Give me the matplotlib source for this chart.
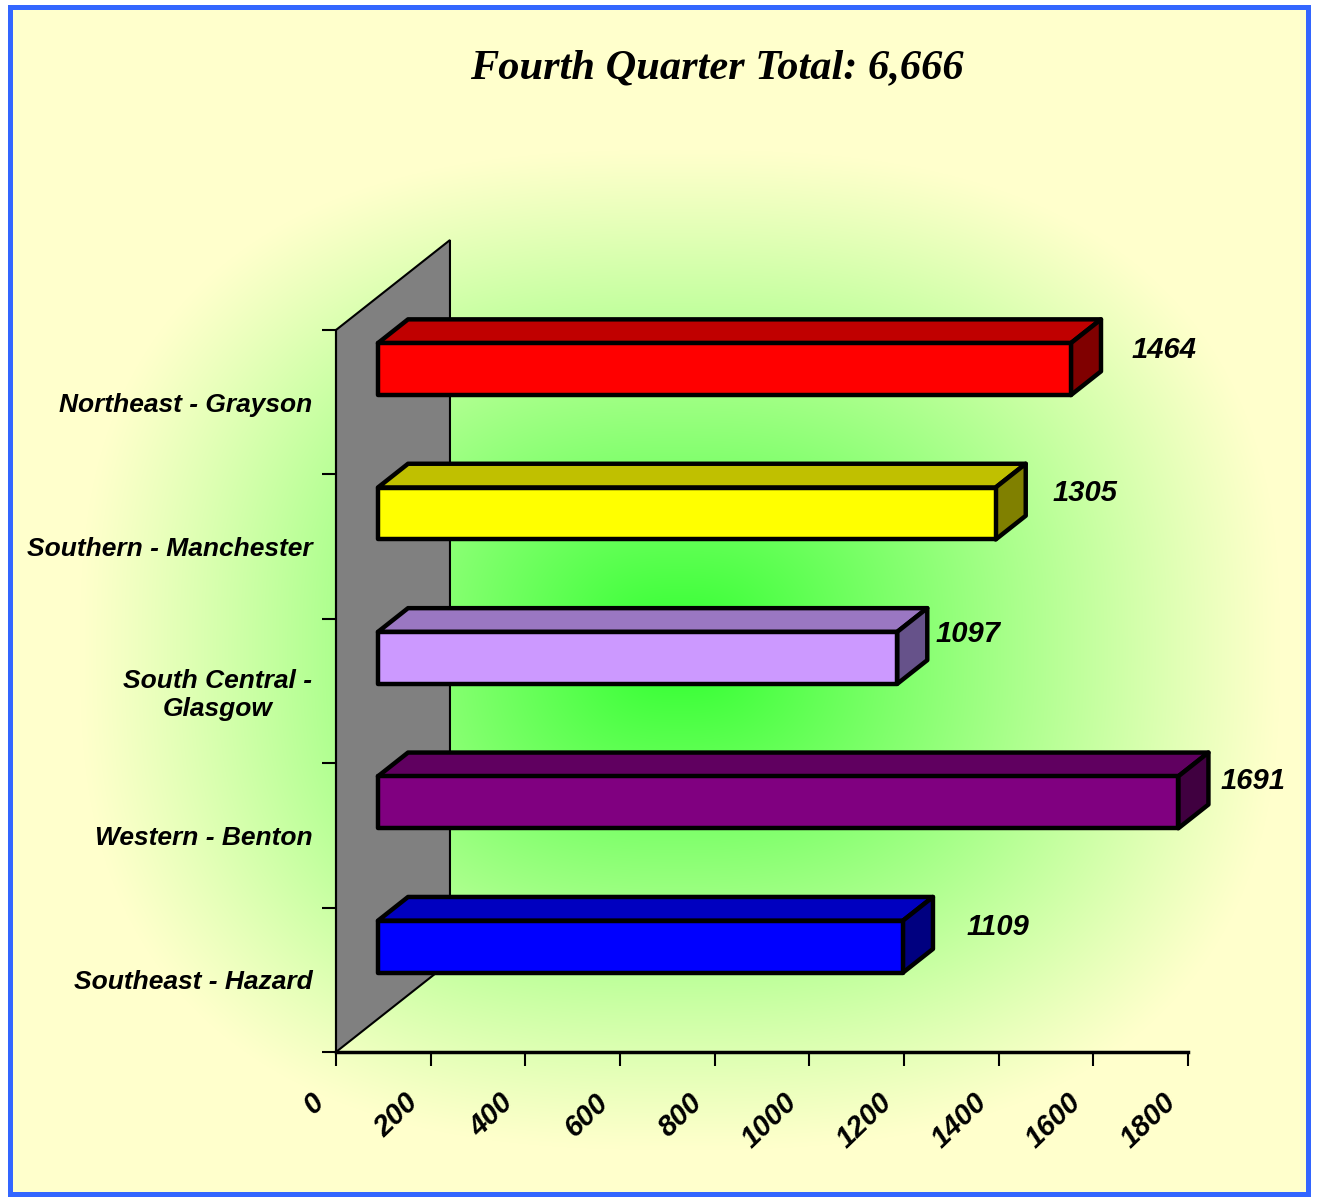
import matplotlib.pyplot as plt
import numpy as np
from matplotlib.patches import Polygon, Rectangle
from matplotlib.transforms import ScaledTranslation

# data, listed top to bottom as shown
regions = ["Northeast - Grayson", "Southern - Manchester", "South Central -\nGlasgow",
           "Western - Benton", "Southeast - Hazard"]
totals = [1464, 1305, 1097, 1691, 1109]
x_ticks = [0, 200, 400, 600, 800, 1000, 1200, 1400, 1600, 1800]
title = "Fourth Quarter Total: 6,666"

# styling
face_colors = ["#FF0000", "#FFFF00", "#CC99FF", "#800080", "#0000FF"]
top_colors = ["#C00000", "#C0C000", "#9A77C2", "#600060", "#0000C0"]
side_colors = ["#800000", "#808000", "#66528A", "#400040", "#000080"]
label_offsets = [(31, -1), (27, 0), (8, 4), (12, 1), (34, -1)]  # pixels

W, H = 1317, 1197
fig = plt.figure(figsize=(W / 100, H / 100), dpi=100)

# background: pale yellow with a green glow in the middle
bg = fig.add_axes([0, 0, 1, 1])
bg.set_axis_off()
yy, xx = np.mgrid[0:H, 0:W] + 0.5
cx, cy, a, b, p = 680, 650, 600, 500, 2.6
t = ((np.abs(xx - cx) / a) ** p + (np.abs(yy - cy) / b) ** p) ** (1 / p)
w = np.clip(1 - t, 0, 1) ** 1.1
yellow = np.array([1.0, 1.0, 0.8])
green = np.array([0.18, 1.0, 0.18])
rgb = yellow * (1 - w[..., None]) + green * w[..., None]
outside = (xx < 8) | (xx > 1309) | (yy < 5) | (yy > 1194)
rgb[outside] = 1.0
bg.imshow(rgb, extent=(0, W, H, 0), aspect="auto", interpolation="bilinear")
bg.set_xlim(0, W)
bg.set_ylim(H, 0)
bg.add_patch(Rectangle((9.5, 6.5), 1298, 1187, fill=False, ec="#3366FF", lw=3.6))

fig.text(717 / W, 1 - 68 / H, title, ha="center", va="center", fontsize=30.5,
         family="Liberation Serif", weight="bold", style="italic")

# chart axes (front plane of the 3d box)
ax = fig.add_axes([336 / W, 1 - 1052 / H, 852 / W, 722 / H])
ax.set_facecolor("none")
ax.set_xlim(0, 1800)
ax.set_ylim(0, len(regions))

# depth vector in data units and bar depth range
DX, DY = 240.8, 0.623
d0, d1 = 0.368, 0.632
half = 0.18


def P(x, y, d):
    return (x + d * DX, y + d * DY)


n = len(regions)
wall = Polygon([P(0, 0, 0), P(0, n, 0), P(0, n, 1), P(0, 0, 1)], closed=True,
               fc="#808080", ec="black", lw=1.5, clip_on=False, zorder=1)
ax.add_patch(wall)

font = dict(family="Liberation Sans", weight="bold", style="italic")

for i, (v, fc, tc, sc) in enumerate(zip(totals, face_colors, top_colors, side_colors)):
    yc = n - 0.5 - i
    y0, y1 = yc - half, yc + half
    kw = dict(closed=True, ec="black", lw=3.2, joinstyle="round", clip_on=False, zorder=3)
    ax.add_patch(Polygon([P(0, y1, d0), P(v, y1, d0), P(v, y1, d1), P(0, y1, d1)], fc=tc, **kw))
    ax.add_patch(Polygon([P(v, y0, d0), P(v, y0, d1), P(v, y1, d1), P(v, y1, d0)], fc=sc, **kw))
    ax.add_patch(Polygon([P(0, y0, d0), P(v, y0, d0), P(v, y1, d0), P(0, y1, d0)], fc=fc, **kw))
    ax.annotate(str(v), xy=(v + d1 * DX, yc + 0.37), xytext=label_offsets[i],
                textcoords="offset pixels", ha="left", va="center", fontsize=21,
                annotation_clip=False, **font)

for s in ["top", "right"]:
    ax.spines[s].set_visible(False)
ax.spines["bottom"].set_linewidth(2.5)
ax.spines["left"].set_linewidth(1.5)

ax.set_yticks(range(n + 1))
ax.set_yticklabels([])
ax.set_yticks([n - 0.5 - i for i in range(n)], regions, minor=True)
ax.tick_params(axis="y", which="major", length=10, width=1.5)
ax.tick_params(axis="y", which="minor", length=0, pad=17)
for lbl in ax.get_yticklabels(minor=True):
    lbl.set(fontsize=19, multialignment="center", **font)

ax.set_xticks(x_ticks)
ax.set_xticklabels([str(x) for x in x_ticks])
ax.tick_params(axis="x", length=10, width=1.5, pad=16)
shift = ScaledTranslation(-26 / 100, 0, fig.dpi_scale_trans)
for lbl in ax.get_xticklabels():
    lbl.set(fontsize=21, rotation=44, ha="right", va="top", rotation_mode="anchor", **font)
    lbl.set_transform(lbl.get_transform() + shift)

fig.savefig("out.png", dpi=100)
